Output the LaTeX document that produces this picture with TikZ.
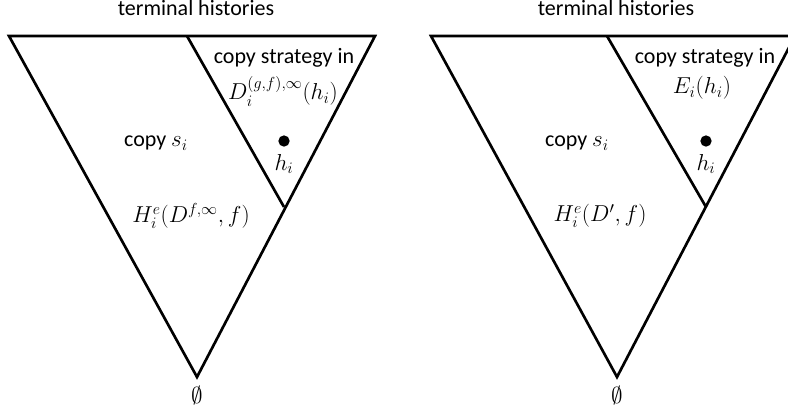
\documentclass[tikz,border=0pt]{standalone}
\usepackage{amssymb}
\usepackage{fontspec}
\setmainfont{Carlito}
\begin{document}
\begin{tikzpicture}[x=0.75pt,y=-0.75pt,
  edge/.style={line width=2pt,line join=miter},
  lbl/.style={inner sep=0pt,font=\fontsize{16.5}{19}\selectfont},
  dotmark/.style={circle,fill=black,inner sep=0pt,minimum size=8.5pt}]
\useasboundingbox (0,0) rectangle (788,412);
\clip (0,0) rectangle (788,412);
% left diagram
\coordinate (lTL) at (9,36);
\coordinate (lTR) at (375,36);
\coordinate (lA) at (197,377);
\coordinate (lIT) at (187,36);
\coordinate (lIA) at (284,207);
\draw[edge] (lTR) -- (lTL) -- (lA) -- cycle;
\draw[edge] (lIT) -- (lIA);
\node[lbl] (lterm) at (196,8) {terminal histories};
\node[lbl] (lcopyin) at (284,58) {copy strategy in};
\node[lbl] (lD) at (283,91) {$D_i^{(g,f),\infty}(h_i)$};
\node[dotmark] (ldot) at (284,141) {};
\node[lbl] (lh) at (284,164) {$h_i$};
\node[lbl] (lcopy) at (156,143) {copy $s_i$};
\node[lbl] (lH) at (191,216) {$H_i^e(D^{f,\infty},f)$};
\node[lbl] (lempty) at (197,395) {$\emptyset$};
% right diagram
\coordinate (rTL) at (431,36);
\coordinate (rTR) at (795,36);
\coordinate (rA) at (617,377);
\coordinate (rIT) at (607,36);
\coordinate (rIA) at (706,207);
\draw[edge] (rTR) -- (rTL) -- (rA) -- cycle;
\draw[edge] (rIT) -- (rIA);
\node[lbl] (rterm) at (616,8) {terminal histories};
\node[lbl] (rcopyin) at (705,58) {copy strategy in};
\node[lbl] (rE) at (702,88) {$E_i(h_i)$};
\node[dotmark] (rdot) at (706,141) {};
\node[lbl] (rh) at (706,164) {$h_i$};
\node[lbl] (rcopy) at (577,143) {copy $s_i$};
\node[lbl] (rH) at (600,216) {$H_i^e(D',f)$};
\node[lbl] (rempty) at (617,395) {$\emptyset$};
\end{tikzpicture}
\end{document}
